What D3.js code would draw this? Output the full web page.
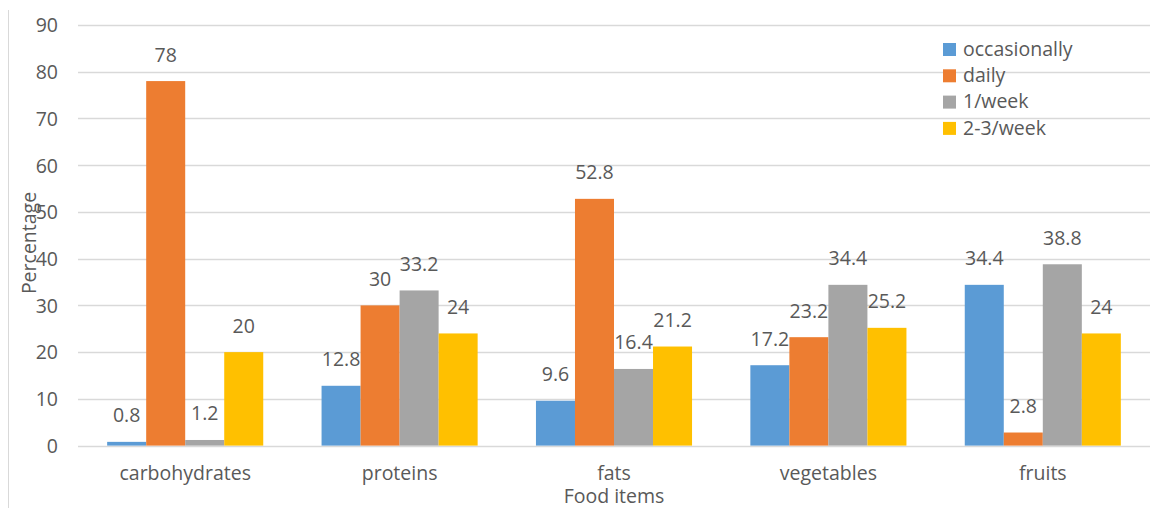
<!DOCTYPE html>
<html><head><meta charset="utf-8">
<script src="https://cdn.jsdelivr.net/npm/d3@7"></script>
<style>
html,body{margin:0;padding:0;background:#fff;}
text{font-family:"Open Sans",sans-serif;fill:#595959;}
</style></head>
<body><svg id="c" width="1162" height="508"></svg>
<script>
const categories = ["carbohydrates","proteins","fats","vegetables","fruits"];
const seriesNames = ["occasionally","daily","1/week","2-3/week"];
const occasionally = [0.8,12.8,9.6,17.2,34.4];
const daily = [78,30,52.8,23.2,2.8];
const perWeek1 = [1.2,33.2,16.4,34.4,38.8];
const perWeek23 = [20,24,21.2,25.2,24];
const colors = ["#5B9BD5","#ED7D31","#A5A5A5","#FFC000"];
const yTicks = [0,10,20,30,40,50,60,70,80,90];

const series = [occasionally, daily, perWeek1, perWeek23];
const svg = d3.select("#c");
const fs = 19.5;
const mLeft = 78, mRight = 1150, mTop = 25, mBottom = 445.6;

// left border line
svg.append("line").attr("x1",8.5).attr("x2",8.5).attr("y1",10).attr("y2",508)
  .attr("stroke","#D9D9D9").attr("stroke-width",1);

const y = d3.scaleLinear().domain([0,90]).range([mBottom, mTop]);
const x0 = d3.scaleBand().domain(categories).range([mLeft,mRight]).paddingInner(0.272).paddingOuter(0.136);
const x1 = d3.scaleBand().domain(seriesNames).range([0,x0.bandwidth()]);

// gridlines
svg.append("g").selectAll("line").data(yTicks).join("line")
  .attr("x1",mLeft).attr("x2",mRight)
  .attr("y1",d=>Math.round(y(d))+0.5).attr("y2",d=>Math.round(y(d))+0.5)
  .attr("stroke","#D9D9D9").attr("stroke-width",1.3);

// y axis
const yAxis = svg.append("g").attr("transform",`translate(${mLeft-20},0)`)
  .call(d3.axisLeft(y).tickValues(yTicks).tickSize(0).tickPadding(0));
yAxis.select(".domain").remove();
yAxis.selectAll("text").style("font-size",fs+"px").attr("dy","0.35em").attr("fill","#595959");

// x axis labels
const xAxis = svg.append("g").attr("transform",`translate(0,${mBottom})`)
  .call(d3.axisBottom(x0).tickSize(0).tickPadding(0));
xAxis.select(".domain").remove();
xAxis.selectAll("text").style("font-size",fs+"px").attr("y",34.5).attr("dy",0).attr("fill","#595959");

// bars
const groups = svg.append("g").selectAll("g").data(categories).join("g")
  .attr("transform",d=>`translate(${x0(d)},0)`);
groups.each(function(cat,ci){
  const g = d3.select(this);
  const rows = seriesNames.map((s,si)=>({s,si,v:series[si][ci]}));
  g.selectAll("rect").data(rows).join("rect")
    .attr("x",d=>x1(d.s)).attr("width",x1.bandwidth())
    .attr("y",d=>y(d.v)).attr("height",d=>y(0)-y(d.v))
    .attr("fill",d=>colors[d.si]);
  g.selectAll("text.lbl").data(rows).join("text").attr("class","lbl")
    .attr("x",d=>x1(d.s)+x1.bandwidth()/2).attr("y",d=>y(d.v)-19.5)
    .attr("text-anchor","middle").style("font-size",fs+"px")
    .text(d=>d.v);
});

// axis titles
svg.append("text").attr("x",614).attr("y",502.5).attr("text-anchor","middle")
  .style("font-size",fs+"px").text("Food items");
svg.append("text").attr("transform","translate(36,243) rotate(-90)").attr("text-anchor","middle")
  .style("font-size",fs+"px").text("Percentage");

// legend
const leg = svg.append("g").selectAll("g").data(seriesNames).join("g")
  .attr("transform",(d,i)=>`translate(943,${49+i*26.3})`);
leg.append("rect").attr("x",0).attr("y",-6).attr("width",13).attr("height",13).attr("fill",(d,i)=>colors[i]);
leg.append("text").attr("x",20).attr("y",0).attr("dy","0.35em").style("font-size",fs+"px").text(d=>d);
</script></body></html>
